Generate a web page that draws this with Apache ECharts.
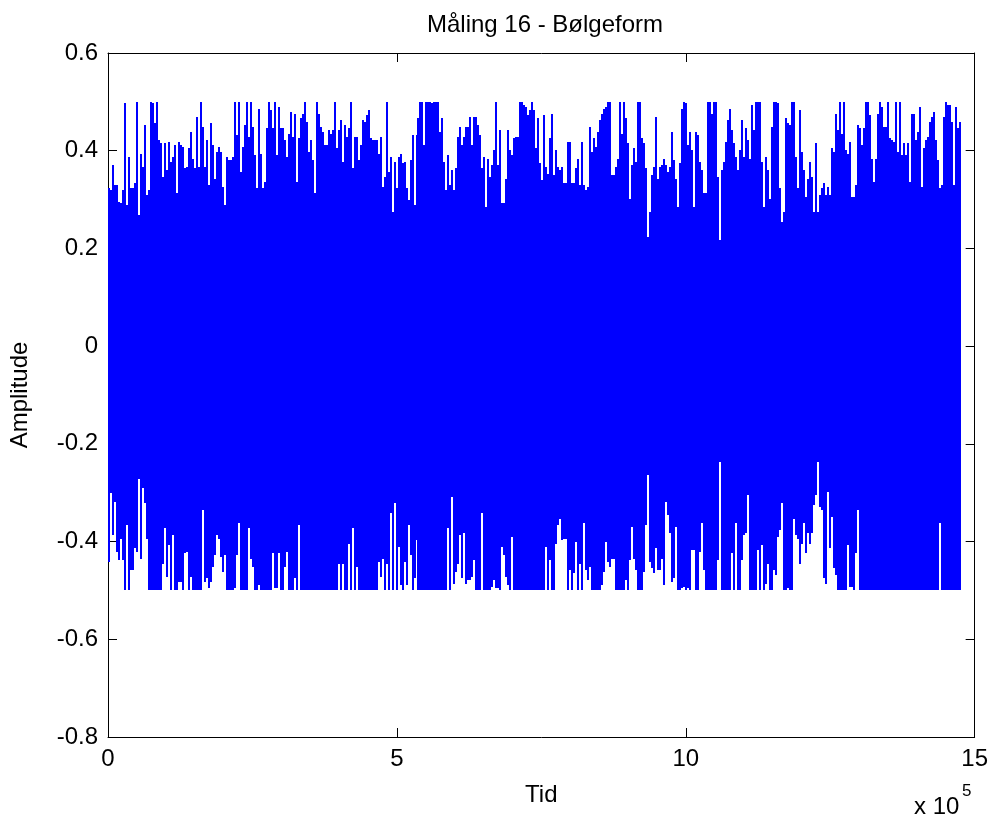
<!DOCTYPE html>
<html>
<head>
<meta charset="utf-8">
<title>Måling 16 - Bølgeform</title>
<script src="https://cdn.jsdelivr.net/npm/echarts@6/dist/echarts.min.js"></script>
<style>
  html, body { margin: 0; padding: 0; background: #ffffff; }
  #chart { width: 991px; height: 823px; }
</style>
</head>
<body>
<div id="chart"></div>
<script>
// Samples per envelope column of the recorded waveform
const sampleStep = 3456;

// Per-column maximum of the waveform (amplitude)
const upperEnvelope = [
  0.323,0.319,0.371,0.33,0.33,0.295,0.292,0.319,0.497,0.289,
  0.388,0.323,0.323,0.333,0.5,0.268,0.394,0.367,0.452,0.309,
  0.319,0.5,0.497,0.456,0.5,0.422,0.415,0.347,0.415,0.36,
  0.418,0.377,0.388,0.411,0.313,0.418,0.411,0.408,0.364,0.367,
  0.405,0.439,0.384,0.364,0.469,0.367,0.5,0.449,0.367,0.422,
  0.33,0.456,0.411,0.343,0.398,0.408,0.398,0.326,0.289,0.388,
  0.381,0.381,0.388,0.5,0.432,0.5,0.357,0.408,0.452,0.5,
  0.428,0.5,0.449,0.391,0.323,0.486,0.394,0.323,0.336,0.446,
  0.5,0.483,0.446,0.5,0.391,0.49,0.446,0.446,0.422,0.388,
  0.435,0.48,0.428,0.476,0.336,0.425,0.466,0.476,0.5,0.459,
  0.398,0.422,0.381,0.313,0.5,0.476,
  0.449,0.439,0.411,0.411,0.442,0.435,0.442,0.5,0.405,0.442,
  0.463,0.377,0.452,0.428,0.446,0.5,0.364,0.428,0.428,0.381,
  0.411,0.463,0.459,0.473,0.483,0.425,0.422,0.422,0.422,0.394,
  0.428,0.326,0.347,0.5,0.357,0.388,0.275,0.377,0.323,0.388,
  0.394,0.374,0.377,0.323,0.299,0.381,0.432,0.289,0.432,0.466,
  0.5,0.5,0.411,0.5,0.5,0.5,0.497,0.5,0.5,0.5,
  0.439,0.466,0.377,0.319,0.391,0.33,0.36,0.319,0.364,0.428,
  0.449,0.411,0.428,0.449,0.449,0.469,0.411,0.469,0.469,0.452,
  0.432,0.364,0.388,0.285,0.384,0.347,0.371,0.401,0.5,0.371,
  0.442,0.292,0.292,0.343,0.442,0.401,0.391,0.425,0.428,0.428,
  0.5,0.5,0.493,0.49,0.473,0.483,0.5,0.483,
  0.405,0.466,0.374,0.34,0.473,0.367,0.353,0.425,0.476,0.35,
  0.401,0.367,0.36,0.367,0.333,0.333,0.418,0.418,0.333,0.333,
  0.364,0.384,0.33,0.418,0.33,0.319,0.326,0.449,0.398,0.425,
  0.408,0.439,0.463,0.476,0.486,0.49,0.5,0.5,0.35,0.35,
  0.367,0.384,0.5,0.435,0.5,0.466,0.415,0.302,0.371,0.405,
  0.377,0.5,0.5,0.425,0.415,0.364,0.224,0.275,0.35,0.367,
  0.469,0.343,0.367,0.371,0.384,0.371,0.357,0.367,0.439,0.381,
  0.343,0.285,0.374,0.486,0.5,0.497,0.411,0.439,0.401,0.285,
  0.439,0.432,0.377,0.36,0.313,0.313,0.5,0.5,0.476,0.5,
  0.5,0.347,0.217,0.36,0.377,0.418,0.463,0.486,0.442,0.415,
  0.388,0.36,0.401,0.463,0.388,0.446,0.422,
  0.384,0.493,0.442,0.5,0.5,0.5,0.377,0.285,0.388,0.36,
  0.302,0.449,0.5,0.5,0.497,0.323,0.255,0.275,0.466,0.456,
  0.452,0.5,0.5,0.388,0.323,0.483,0.398,0.36,0.306,0.343,
  0.377,0.347,0.275,0.415,0.275,0.309,0.323,0.333,0.309,0.326,
  0.309,0.405,0.398,0.476,0.442,0.5,0.435,0.5,0.401,0.394,
  0.418,0.306,0.306,0.33,0.452,0.446,0.411,0.446,0.5,0.5,
  0.473,0.384,0.336,0.384,0.476,0.5,0.49,0.449,0.449,0.5,
  0.425,0.422,0.418,0.5,0.398,0.5,0.391,0.415,0.391,0.415,
  0.336,0.476,0.476,0.422,0.439,0.49,0.326,0.405,0.422,0.428,
  0.459,0.469,0.48,0.422,0.381,0.323,0.33,0.469,0.5,0.493,
  0.493,0.459,0.33,0.49,0.446,0.459
];

// Per-column minimum of the waveform (amplitude)
const lowerEnvelope = [
  -0.441,-0.301,-0.387,-0.318,-0.421,-0.438,-0.394,-0.438,-0.5,-0.366,
  -0.5,-0.458,-0.458,-0.414,-0.421,-0.271,-0.435,-0.291,-0.322,-0.394,
  -0.5,-0.5,-0.5,-0.5,-0.5,-0.5,-0.5,-0.445,-0.373,-0.472,
  -0.407,-0.5,-0.387,-0.5,-0.5,-0.482,-0.482,-0.5,-0.424,-0.421,
  -0.5,-0.472,-0.5,-0.5,-0.5,-0.5,-0.5,-0.336,-0.482,-0.475,
  -0.496,-0.482,-0.452,-0.428,-0.387,-0.394,-0.431,-0.462,-0.428,-0.5,
  -0.5,-0.5,-0.5,-0.496,-0.428,-0.363,-0.5,-0.5,-0.5,-0.5,
  -0.373,-0.435,-0.452,-0.5,-0.5,-0.489,-0.5,-0.5,-0.5,-0.5,
  -0.5,-0.5,-0.424,-0.496,-0.496,-0.424,-0.5,-0.5,-0.452,-0.421,
  -0.5,-0.5,-0.5,-0.475,-0.5,-0.366,-0.5,-0.5,-0.5,-0.5,
  -0.5,-0.5,-0.5,-0.5,-0.5,-0.5,
  -0.5,-0.5,-0.5,-0.5,-0.5,-0.5,-0.5,-0.5,-0.5,-0.445,
  -0.5,-0.445,-0.5,-0.5,-0.404,-0.5,-0.373,-0.5,-0.452,-0.5,
  -0.5,-0.5,-0.5,-0.5,-0.5,-0.5,-0.5,-0.5,-0.5,-0.441,
  -0.472,-0.435,-0.5,-0.445,-0.5,-0.342,-0.5,-0.322,-0.5,-0.411,
  -0.489,-0.5,-0.441,-0.489,-0.366,-0.428,-0.5,-0.475,-0.397,-0.5,
  -0.5,-0.5,-0.5,-0.5,-0.5,-0.5,-0.5,-0.5,-0.5,-0.5,
  -0.5,-0.5,-0.5,-0.5,-0.373,-0.5,-0.308,-0.486,-0.462,-0.445,
  -0.387,-0.475,-0.383,-0.486,-0.479,-0.479,-0.472,-0.438,-0.5,-0.5,
  -0.5,-0.342,-0.5,-0.5,-0.5,-0.5,-0.492,-0.479,-0.496,-0.496,
  -0.5,-0.411,-0.428,-0.472,-0.489,-0.5,-0.39,-0.5,-0.5,-0.5,
  -0.5,-0.5,-0.5,-0.5,-0.5,-0.5,-0.5,-0.5,
  -0.5,-0.5,-0.5,-0.5,-0.5,-0.411,-0.5,-0.438,-0.5,-0.5,
  -0.404,-0.366,-0.353,-0.397,-0.394,-0.394,-0.5,-0.458,-0.5,-0.465,
  -0.4,-0.5,-0.445,-0.5,-0.363,-0.458,-0.479,-0.452,-0.5,-0.5,
  -0.5,-0.5,-0.5,-0.489,-0.462,-0.4,-0.441,-0.452,-0.435,-0.435,
  -0.5,-0.5,-0.5,-0.5,-0.5,-0.479,-0.5,-0.438,-0.37,-0.435,
  -0.458,-0.5,-0.5,-0.5,-0.462,-0.366,-0.264,-0.441,-0.455,-0.465,
  -0.414,-0.458,-0.458,-0.435,-0.489,-0.318,-0.346,-0.383,-0.482,-0.475,
  -0.37,-0.5,-0.5,-0.496,-0.492,-0.5,-0.496,-0.5,-0.417,-0.417,
  -0.5,-0.5,-0.421,-0.363,-0.458,-0.5,-0.5,-0.5,-0.5,-0.5,
  -0.5,-0.438,-0.237,-0.5,-0.5,-0.5,-0.5,-0.5,-0.424,-0.5,
  -0.363,-0.5,-0.5,-0.438,-0.387,-0.383,-0.305,
  -0.5,-0.5,-0.5,-0.5,-0.417,-0.5,-0.407,-0.5,-0.486,-0.445,
  -0.5,-0.5,-0.458,-0.469,-0.39,-0.377,-0.322,-0.5,-0.5,-0.496,
  -0.5,-0.5,-0.353,-0.387,-0.394,-0.445,-0.404,-0.363,-0.424,-0.383,
  -0.404,-0.383,-0.325,-0.305,-0.237,-0.329,-0.336,-0.475,-0.486,-0.298,
  -0.414,-0.349,-0.455,-0.469,-0.5,-0.5,-0.5,-0.5,-0.5,-0.407,
  -0.492,-0.492,-0.5,-0.424,-0.336,-0.5,-0.5,-0.5,-0.5,-0.5,
  -0.5,-0.5,-0.5,-0.5,-0.5,-0.5,-0.5,-0.5,-0.5,-0.5,
  -0.5,-0.5,-0.5,-0.5,-0.5,-0.5,-0.5,-0.5,-0.5,-0.5,
  -0.5,-0.5,-0.5,-0.5,-0.5,-0.5,-0.5,-0.5,-0.5,-0.5,
  -0.5,-0.5,-0.5,-0.5,-0.5,-0.363,-0.5,-0.5,-0.5,-0.5,
  -0.5,-0.5,-0.5,-0.5,-0.5,-0.5
];

// Axis ranges and ticks
const xRange = [0, 1500000];
const xTickStep = 500000;
const xScaleDivisor = 100000;
const yRange = [-0.8, 0.6];
const yTickStep = 0.2;

const FONT = 'Liberation Sans, Arial, sans-serif';
const waveColor = '#0000ff';

const columns = upperEnvelope.map((hi, i) => [i * sampleStep, lowerEnvelope[i], hi]);

function formatY(v) {
  const r = Math.round(v * 10) / 10;
  return r === 0 ? '0' : String(r);
}

const axisCommon = {
  axisLine: { show: true, onZero: false, lineStyle: { color: '#000', width: 1 } },
  axisTick: { show: true, inside: true, length: 9, lineStyle: { color: '#000', width: 1 } },
  splitLine: { show: false }
};

const chart = echarts.init(document.getElementById('chart'), null, { renderer: 'canvas' });

chart.setOption({
  animation: false,
  backgroundColor: '#ffffff',
  title: {
    text: 'Måling 16 - Bølgeform',
    left: 540,
    top: 8,
    textAlign: 'center',
    textStyle: { fontFamily: FONT, fontSize: 24, fontWeight: 'normal', color: '#000' }
  },
  grid: { left: 108, right: 15, top: 53, bottom: 86, containLabel: false },
  xAxis: [
    Object.assign({
      type: 'value', position: 'bottom',
      min: xRange[0], max: xRange[1], interval: xTickStep,
      axisLabel: {
        color: '#000', fontFamily: FONT, fontSize: 24, margin: 10,
        formatter: v => String(v / xScaleDivisor)
      },
      name: 'Tid', nameLocation: 'middle', nameGap: 46,
      nameTextStyle: { color: '#000', fontFamily: FONT, fontSize: 24 }
    }, axisCommon),
    Object.assign({
      type: 'value', position: 'top',
      min: xRange[0], max: xRange[1], interval: xTickStep,
      axisLabel: { show: false }
    }, axisCommon)
  ],
  yAxis: [
    Object.assign({
      type: 'value', position: 'left',
      min: yRange[0], max: yRange[1], interval: yTickStep,
      axisLabel: {
        color: '#000', fontFamily: FONT, fontSize: 24, margin: 10,
        formatter: formatY
      },
      name: 'Amplitude', nameLocation: 'middle', nameGap: 76, nameRotate: 90,
      nameTextStyle: { color: '#000', fontFamily: FONT, fontSize: 24 }
    }, axisCommon),
    Object.assign({
      type: 'value', position: 'right',
      min: yRange[0], max: yRange[1], interval: yTickStep,
      axisLabel: { show: false }
    }, axisCommon)
  ],
  graphic: [
    {
      type: 'text', left: 914, top: 795,
      style: { text: 'x 10', font: '24px ' + FONT, fill: '#000' }
    },
    {
      type: 'text', left: 962, top: 783,
      style: { text: '5', font: '17px ' + FONT, fill: '#000' }
    }
  ],
  series: [{
    type: 'custom',
    xAxisIndex: 0,
    yAxisIndex: 0,
    clip: true,
    data: columns,
    encode: { x: 0, y: [1, 2] },
    renderItem: function (params, api) {
      const t = api.value(0);
      const top = api.coord([t, api.value(2)]);
      const bottom = api.coord([t + sampleStep, api.value(1)]);
      // snap column edges to whole pixels so neighbouring columns join without seams
      const x0 = Math.round(top[0]);
      const x1 = Math.round(bottom[0]);
      const y0 = Math.round(top[1]);
      const y1 = Math.round(bottom[1]);
      return {
        type: 'rect',
        shape: { x: x0, y: y0, width: x1 - x0, height: y1 - y0 },
        style: { fill: waveColor }
      };
    }
  }]
});
</script>
</body>
</html>
